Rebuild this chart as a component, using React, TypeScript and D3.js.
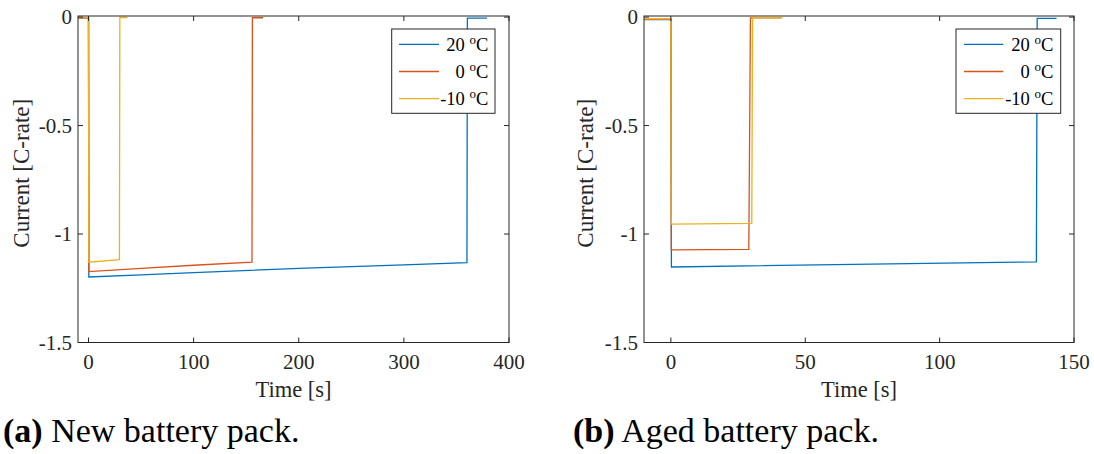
import React from "react";
import * as d3 from "d3";

// ---- Data ----
const seriesNames = ["20 °C", "0 °C", "-10 °C"];
const seriesColors = ["#0072BD", "#D95319", "#EDB120"];

// New battery pack (a)
const newT20 = [-10, 0, 0.3, 50, 100, 200, 300, 360, 360.4, 379];
const newI20 = [-0.005, -0.005, -1.198, -1.188, -1.178, -1.158, -1.142, -1.132, -0.005, -0.005];
const newT0 = [-10, 0, 0.3, 50, 100, 155.5, 155.9, 166];
const newI0 = [-0.005, -0.005, -1.173, -1.158, -1.144, -1.13, -0.003, -0.003];
const newTm10 = [-10, 0, 0.3, 29.4, 29.8, 37];
const newIm10 = [-0.004, -0.004, -1.13, -1.118, -0.002, -0.002];

// Aged battery pack (b)
const agedT20 = [-10, 0, 0.2, 136, 136.3, 143.5];
const agedI20 = [-0.012, -0.012, -1.152, -1.128, -0.006, -0.006];
const agedT0 = [-10, 0, 0.15, 29, 29.6, 41];
const agedI0 = [-0.01, -0.01, -1.073, -1.071, -0.004, -0.004];
const agedTm10 = [-10, 0, 0.1, 0.2, 30.1, 30.4, 41.5];
const agedIm10 = [-0.008, -0.008, -0.92, -0.954, -0.951, -0.003, -0.003];

const yTicks = [-1.5, -1, -0.5, 0];
const newXTicks = [0, 100, 200, 300, 400];
const agedXTicks = [0, 50, 100, 150];

const FONT = "Liberation Serif";
const AXC = "#262626";

type Panel = {
  left: number;
  right: number;
  xDomain: [number, number];
  xTicks: number[];
  series: { t: number[]; i: number[] }[];
  legend: { x0: number; x1: number; lineX0: number; lineX1: number; textX: number };
  yLabelX: number;
  caption: [string, string];
  captionX: number;
};

const TOP = 16;
const BOTTOM = 342.5;

const panels: Panel[] = [
  {
    left: 78,
    right: 509,
    xDomain: [-10, 400],
    xTicks: newXTicks,
    series: [
      { t: newT20, i: newI20 },
      { t: newT0, i: newI0 },
      { t: newTm10, i: newIm10 },
    ],
    legend: { x0: 391.7, x1: 495, lineX0: 399, lineX1: 439, textX: 488.3 },
    yLabelX: 29,
    caption: ["(a)", " New battery pack."],
    captionX: 3,
  },
  {
    left: 644,
    right: 1074,
    xDomain: [-10, 150],
    xTicks: agedXTicks,
    series: [
      { t: agedT20, i: agedI20 },
      { t: agedT0, i: agedI0 },
      { t: agedTm10, i: agedIm10 },
    ],
    legend: { x0: 956, x1: 1060.7, lineX0: 964, lineX1: 1003.3, textX: 1053.3 },
    yLabelX: 593,
    caption: ["(b)", " Aged battery pack."],
    captionX: 573,
  },
];

function PanelView({ p }: { p: Panel }) {
  const x = d3.scaleLinear().domain(p.xDomain).range([p.left, p.right]);
  const y = d3.scaleLinear().domain([-1.5, 0.005]).range([BOTTOM, TOP]);
  const line = d3
    .line<[number, number]>()
    .x((d) => x(d[0]))
    .y((d) => y(d[1]));
  const tickLen = 5;
  const legendRows = [44.3, 71.5, 98.7];
  const nameParts = seriesNames.map((n) => n.replace(" °C", ""));
  return (
    <g>
      {p.series.map((s, k) => (
        <path
          key={k}
          d={line(s.t.map((t, j) => [t, s.i[j]] as [number, number])) || ""}
          fill="none"
          stroke={seriesColors[k]}
          strokeWidth={1.3}
        />
      ))}
      <rect
        x={p.left}
        y={TOP}
        width={p.right - p.left}
        height={BOTTOM - TOP}
        fill="none"
        stroke={AXC}
        strokeWidth={1}
      />
      {p.xTicks.map((t) => (
        <g key={"x" + t}>
          <line x1={x(t)} x2={x(t)} y1={BOTTOM} y2={BOTTOM - tickLen} stroke={AXC} />
          <line x1={x(t)} x2={x(t)} y1={TOP} y2={TOP + tickLen} stroke={AXC} />
          <text x={x(t)} y={369} textAnchor="middle" fontSize={21} fill={AXC}>
            {t}
          </text>
        </g>
      ))}
      {yTicks.map((t) => (
        <g key={"y" + t}>
          <line x1={p.left} x2={p.left + tickLen} y1={y(t)} y2={y(t)} stroke={AXC} />
          <line x1={p.right} x2={p.right - tickLen} y1={y(t)} y2={y(t)} stroke={AXC} />
          <text x={p.left - 6} y={y(t)} dy="0.35em" textAnchor="end" fontSize={21} fill={AXC}>
            {String(t)}
          </text>
        </g>
      ))}
      <text x={(p.left + p.right) / 2} y={397} textAnchor="middle" fontSize={22.5} fill={AXC}>
        Time [s]
      </text>
      <text
        transform={`translate(${p.yLabelX},${(TOP + BOTTOM) / 2 - 6}) rotate(-90)`}
        textAnchor="middle"
        fontSize={23}
        fill={AXC}
      >
        Current [C-rate]
      </text>
      <rect
        x={p.legend.x0}
        y={29}
        width={p.legend.x1 - p.legend.x0}
        height={84.3}
        fill="#fff"
        stroke={AXC}
        strokeWidth={1}
      />
      {legendRows.map((ry, k) => (
        <g key={"l" + k}>
          <line
            x1={p.legend.lineX0}
            x2={p.legend.lineX1}
            y1={ry}
            y2={ry}
            stroke={seriesColors[k]}
            strokeWidth={1.3}
          />
          <text x={p.legend.textX} y={ry + 6.5} textAnchor="end" fontSize={18.5} fill="#000">
            {nameParts[k] + " "}
            <tspan dy={-7} fontSize={13}>
              o
            </tspan>
            <tspan dy={7}>C</tspan>
          </text>
        </g>
      ))}
      <text x={p.captionX} y={441.7} fontSize={34} fill="#000">
        <tspan fontWeight="bold">{p.caption[0]}</tspan>
        <tspan>{p.caption[1]}</tspan>
      </text>
    </g>
  );
}

export default function App() {
  return (
    <svg
      width={1094}
      height={454}
      fontFamily={FONT}
      style={{ position: "absolute", left: 0, top: 0, background: "#fff", fontFamily: FONT }}
    >
      <rect x={0} y={0} width={1094} height={454} fill="#fff" />
      {panels.map((p, i) => (
        <PanelView key={i} p={p} />
      ))}
    </svg>
  );
}
